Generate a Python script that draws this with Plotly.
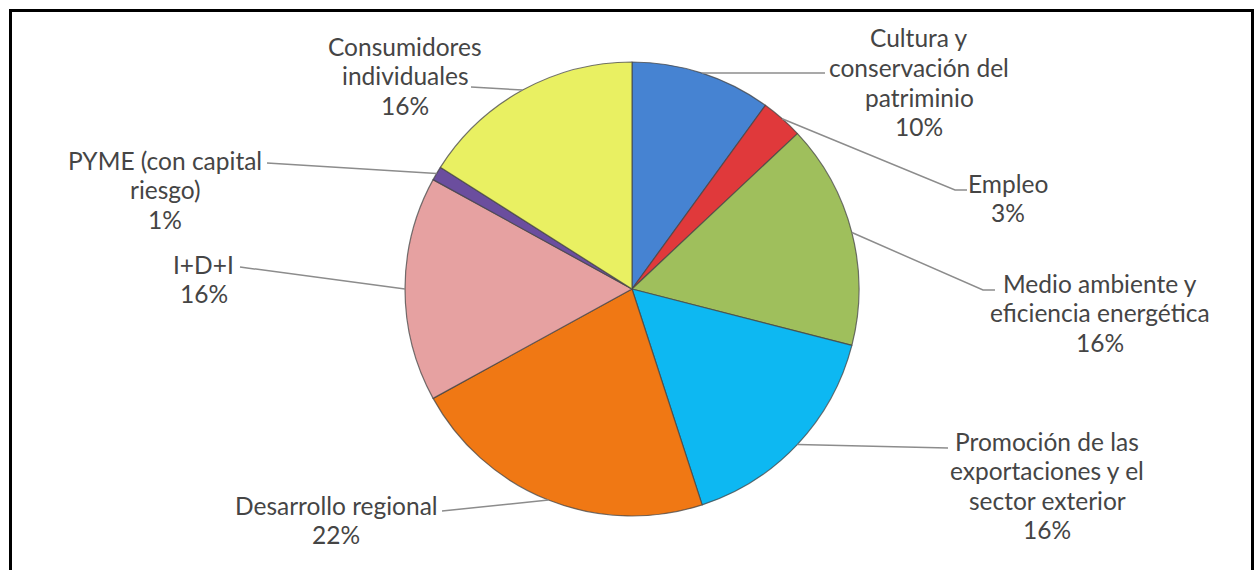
import math
import plotly.graph_objects as go

# Distribución por área (%), en el sentido de las agujas del reloj desde las 12
categories = [
    "Cultura y conservación del patriminio",
    "Empleo",
    "Medio ambiente y eficiencia energética",
    "Promoción de las exportaciones y el sector exterior",
    "Desarrollo regional",
    "I+D+I",
    "PYME (con capital riesgo)",
    "Consumidores individuales",
]
values = [10, 3, 16, 16, 22, 16, 1, 16]

# Texto de cada etiqueta, con sus saltos de línea
label_lines = [
    ["Cultura y", "conservación del", "patriminio"],
    ["Empleo"],
    ["Medio ambiente y", "eficiencia energética"],
    ["Promoción de las", "exportaciones y el", "sector exterior"],
    ["Desarrollo regional"],
    ["I+D+I"],
    ["PYME (con capital", "riesgo)"],
    ["Consumidores", "individuales"],
]

colors = ["#4683D2", "#E0393B", "#9FBF5C", "#0DB8F2",
          "#F07814", "#E6A1A1", "#6B4E9E", "#E9F062"]

W, H = 1254, 570
CX, CY, R = 632, 289, 227          # pie centre and radius in pixels
LINE_H = 29.6                      # label line spacing in pixels

# label centre x and first-line y (px), and leader-line points (px, from label side)
label_pos = [(919, 38), (1008, 183), (1100, 283), (1047, 441),
             (336, 505), (204, 264), (165, 160), (405, 46)]
leader_ends = [
    [(825, 73)],
    [(967, 190), (955, 190)],
    [(995, 290), (983, 290)],
    [(948, 448)],
    [(442, 511)],
    [(240, 267)],
    [(267, 163)],
    [(471, 87)],
]


def px(x, y):
    return x / W, 1 - y / H


fig = go.Figure()
fig.add_trace(go.Pie(
    labels=categories,
    values=values,
    sort=False,
    direction="clockwise",
    rotation=0,
    marker=dict(colors=colors, line=dict(color="rgba(70,70,70,0.75)", width=1.2)),
    textinfo="none",
    hoverinfo="label+percent",
    showlegend=False,
    domain=dict(x=[(CX - R) / W, (CX + R) / W],
                y=[1 - (CY + R) / H, 1 - (CY - R) / H]),
))

total = sum(values)
shapes = []
annotations = []
cum = 0
for i, v in enumerate(values):
    mid = (cum + v / 2) / total * 2 * math.pi
    cum += v
    sx = CX + R * math.sin(mid)
    sy = CY - R * math.cos(mid)
    pts = [(sx, sy)] + list(reversed(leader_ends[i]))
    path = "M " + " L ".join(f"{px(x, y)[0]:.5f},{px(x, y)[1]:.5f}" for x, y in pts)
    shapes.append(dict(type="path", xref="paper", yref="paper", path=path,
                       line=dict(color="#8C8C8C", width=1.5)))
    pct = f"{round(v / total * 100)}%"
    lx0, ly0 = label_pos[i]
    for k, line in enumerate(label_lines[i] + [pct]):
        lx, ly = px(lx0, ly0 + k * LINE_H)
        annotations.append(dict(x=lx, y=ly, xref="paper", yref="paper", text=line,
                                showarrow=False, xanchor="center", yanchor="middle",
                                font=dict(family="Lato", size=24.5, color="#454545")))

# outer frame
shapes.append(dict(type="rect", xref="paper", yref="paper",
                   x0=10.5 / W, x1=1252.5 / W, y0=-0.05, y1=1 - 10.5 / H,
                   line=dict(color="black", width=3), fillcolor="rgba(0,0,0,0)"))

fig.update_layout(
    width=W, height=H,
    margin=dict(l=0, r=0, t=0, b=0),
    paper_bgcolor="white",
    plot_bgcolor="white",
    shapes=shapes,
    annotations=annotations,
)

fig.write_html("out.html")
